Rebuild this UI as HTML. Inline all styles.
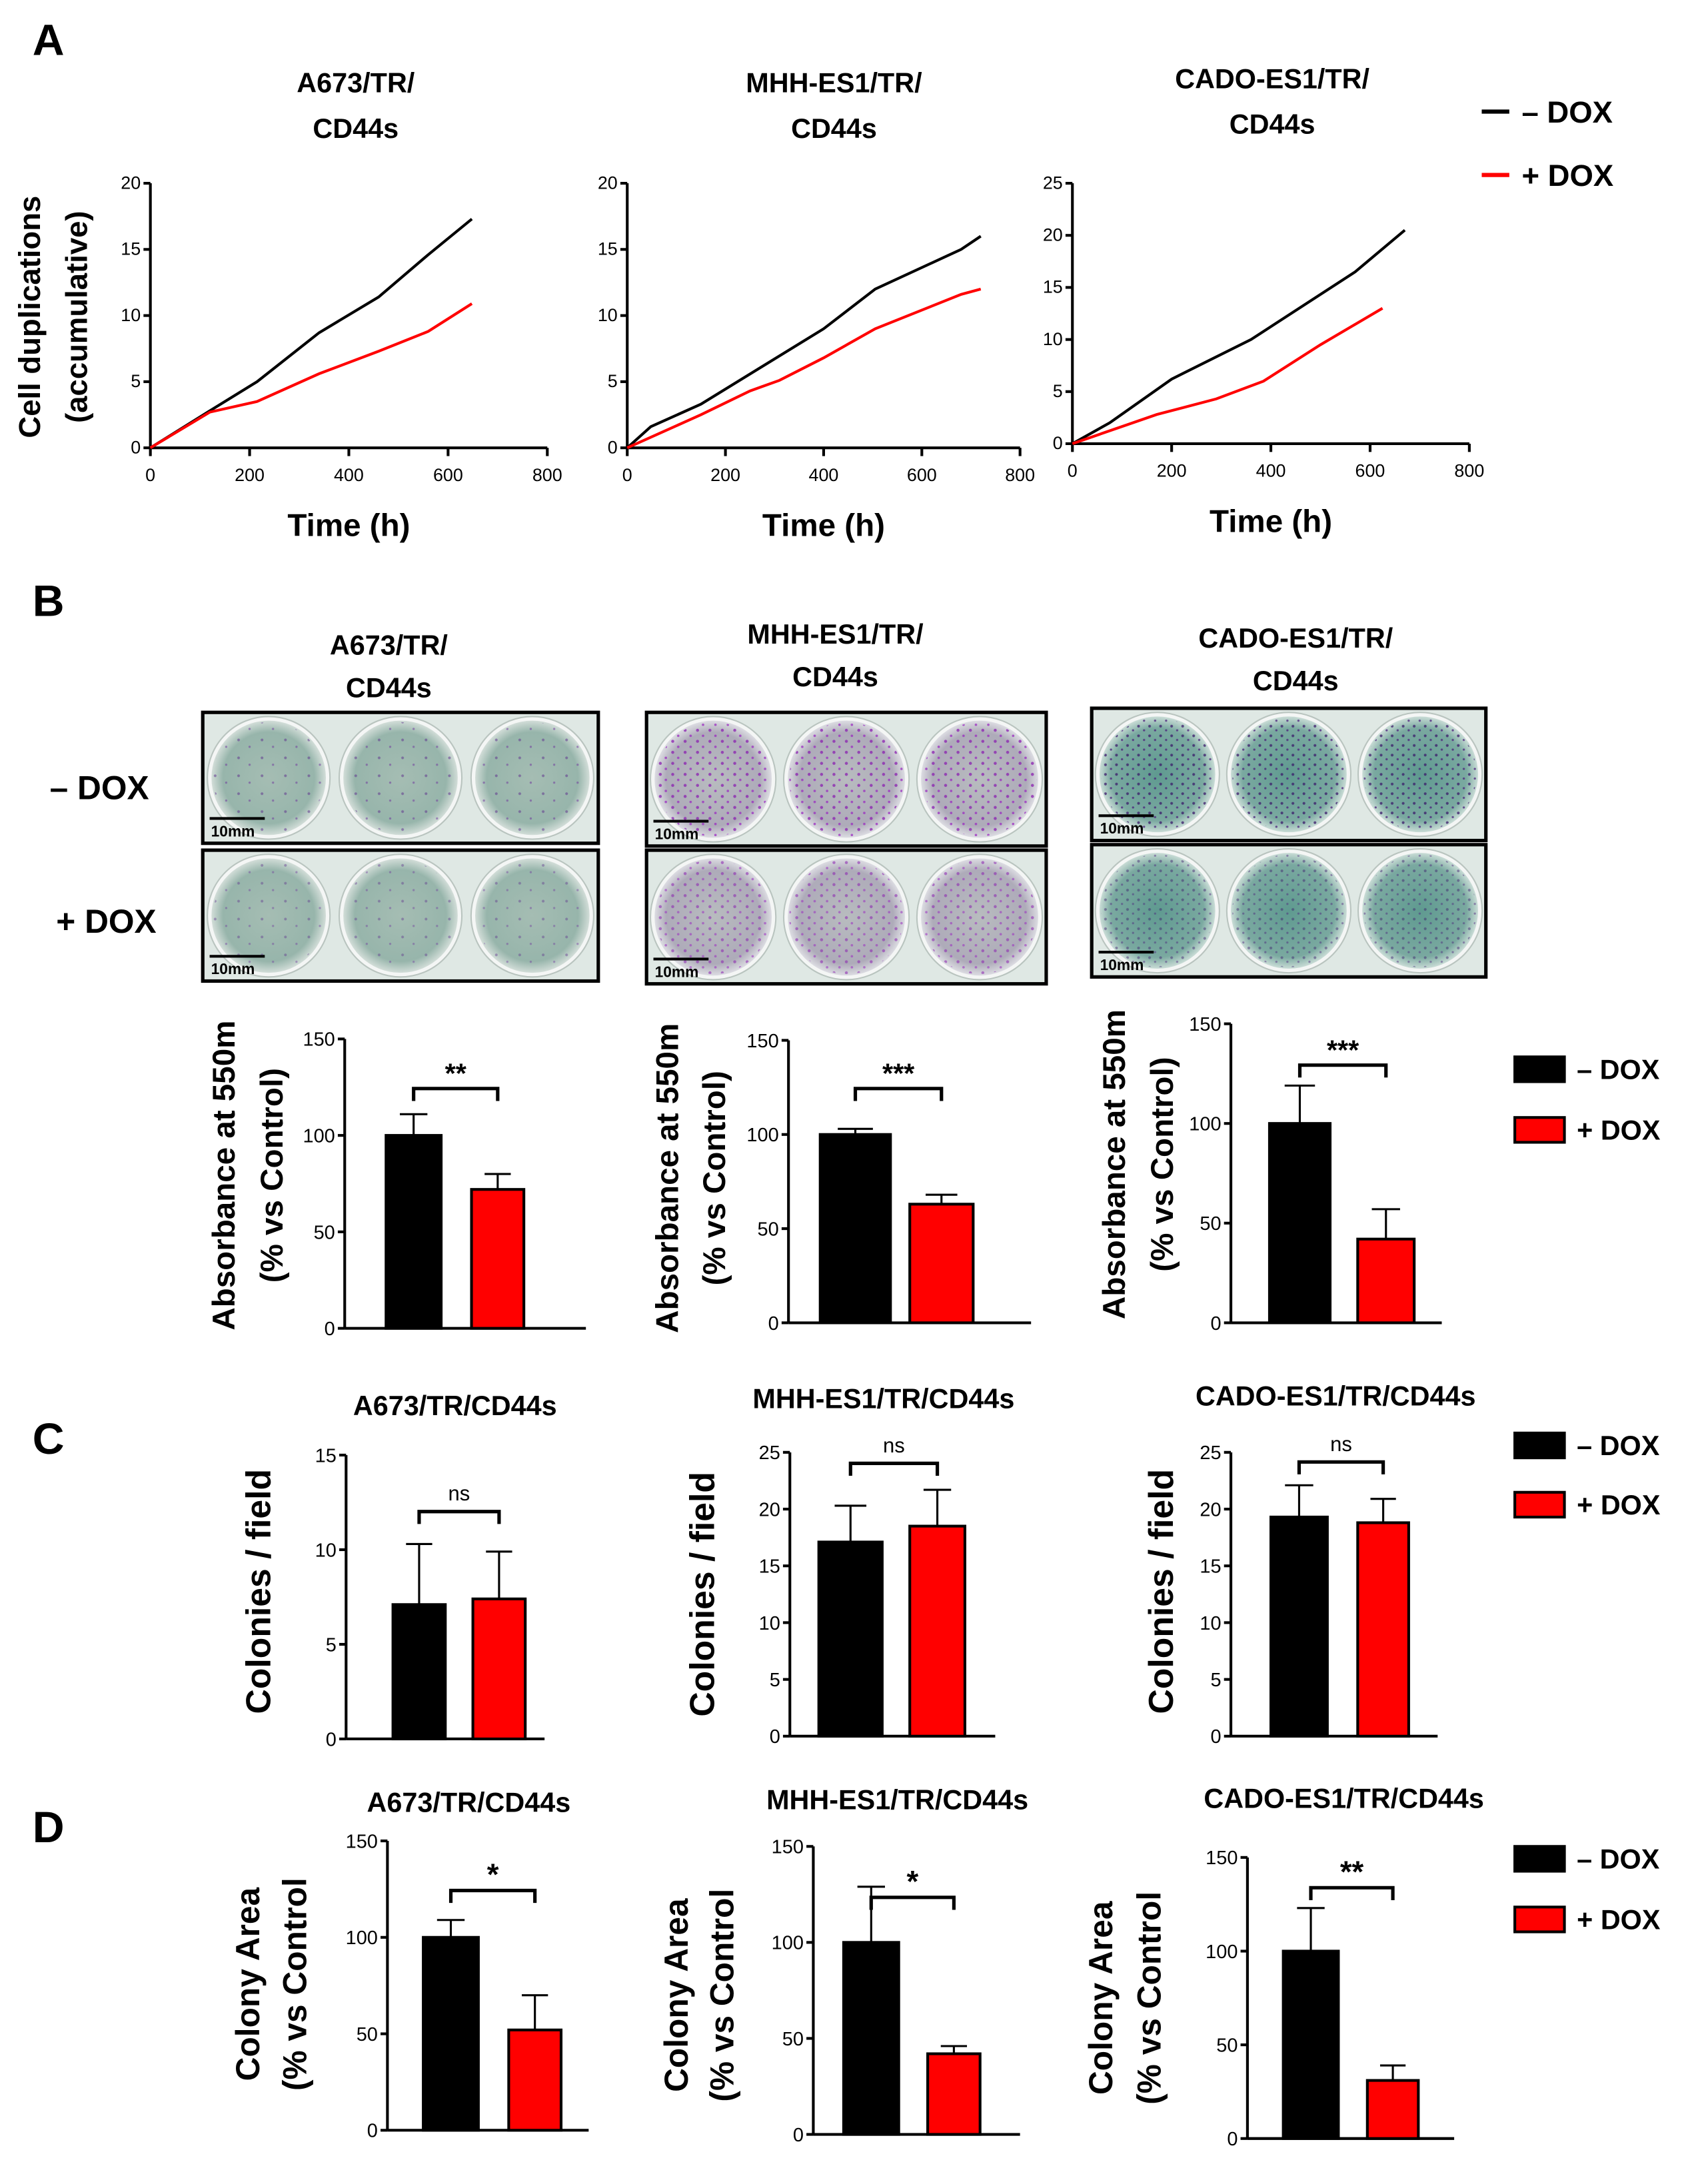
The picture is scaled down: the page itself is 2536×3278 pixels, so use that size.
<!DOCTYPE html>
<html><head><meta charset="utf-8"><style>
html,body{margin:0;padding:0;background:#fff;}
svg{display:block;}
text{font-family:"Liberation Sans Narrow","Liberation Sans",sans-serif;}
</style></head><body>
<svg id="fig" width="2536" height="3278" viewBox="0 0 1226 1585" xmlns="http://www.w3.org/2000/svg">
<defs>
<radialGradient id="wellA" cx="50%" cy="50%" r="50%"><stop offset="0%" stop-color="#a5bdb3"/><stop offset="80%" stop-color="#97b5ab"/><stop offset="100%" stop-color="#d2ddd8"/></radialGradient>
<radialGradient id="wellM" cx="50%" cy="50%" r="50%"><stop offset="0%" stop-color="#b8bcbf"/><stop offset="80%" stop-color="#aeabb9"/><stop offset="100%" stop-color="#dcdce2"/></radialGradient>
<radialGradient id="wellC" cx="50%" cy="50%" r="50%"><stop offset="0%" stop-color="#5f9a90"/><stop offset="80%" stop-color="#7aa9a0"/><stop offset="100%" stop-color="#c9dcd6"/></radialGradient>
<pattern id="dotsA" width="17" height="13" patternUnits="userSpaceOnUse"><circle cx="3" cy="4" r="1" fill="#5a2a8a"/><circle cx="11" cy="9" r="0.8" fill="#6b2f9a"/></pattern>
<pattern id="dotsM" width="9" height="8" patternUnits="userSpaceOnUse"><circle cx="2" cy="2" r="1.1" fill="#8a1fb0"/><circle cx="6" cy="6" r="0.9" fill="#9a2bc0"/></pattern>
<pattern id="dotsC" width="8" height="7" patternUnits="userSpaceOnUse"><circle cx="2" cy="2" r="1" fill="#3a1a6a"/><circle cx="6" cy="5" r="0.8" fill="#4a1f7a"/></pattern>
</defs>
<g id="root"></g>
</svg>
<script>
// ---------- Panel A data (line charts) ----------
const a1Time = [0,120,215,340,460,560,648];
const a1Minus = [0,2.8,5.0,8.7,11.4,14.6,17.3];
const a1Plus = [0,2.7,3.5,5.6,7.3,8.8,10.9];
const a2TimeMinus = [0,48,150,400,505,680,720];
const a2Minus = [0,1.6,3.3,9.0,12.0,15.0,16.0];
const a2TimePlus = [0,150,250,310,400,505,680,720];
const a2Plus = [0,2.5,4.3,5.1,6.8,9.0,11.6,12.0];
const a3TimeMinus = [0,75,200,360,570,670];
const a3Minus = [0,2.0,6.2,10.0,16.5,20.5];
const a3TimePlus = [0,170,290,385,500,625];
const a3Plus = [0,2.8,4.3,6.0,9.5,13.0];
const xTicksA = [0,200,400,600,800];
const yTicksA12 = [0,5,10,15,20];
const yTicksA3 = [0,5,10,15,20,25];
// ---------- Panel B data ----------
const bMeans = [[100,72],[100,63],[100,42]];
const bErr = [[111,80],[103,68],[119,57]];
const bSig = ["**","***","***"];
const yTicksB = [0,50,100,150];
// ---------- Panel C data ----------
const cMeans = [[7.1,7.4],[17.1,18.5],[19.3,18.8]];
const cErr = [[10.3,9.9],[20.3,21.7],[22.1,20.9]];
const cSig = ["ns","ns","ns"];
const yTicksC1 = [0,5,10,15];
const yTicksC23 = [0,5,10,15,20,25];
// ---------- Panel D data ----------
const dMeans = [[100,52],[100,42],[100,31]];
const dErr = [[109,70],[129,46],[123,39]];
const dSig = ["*","*","**"];
const yTicksD = [0,50,100,150];

const NS="http://www.w3.org/2000/svg";
const root=document.getElementById('root');
function el(tag,attrs,parent,txt){const e=document.createElementNS(NS,tag);for(const k in attrs)e.setAttribute(k,attrs[k]);if(txt!==undefined)e.textContent=txt;(parent||root).appendChild(e);return e;}
function txt(x,y,s,size,anchor,bold,parent,rot){const t=el('text',{x:x,y:y,'font-size':size,'text-anchor':anchor||'middle','font-weight':bold?'bold':'normal',fill:'#000'},parent,s);if(rot)t.setAttribute('transform','rotate(-90 '+x+' '+y+')');return t;}

[["A",35,40],["B",35,447],["C",35,1055],["D",35,1337]].forEach(p=>{
 const t=txt(p[1],p[2],p[0],32,'middle',true);
 
 
});

function lineChart(name,x0,x1,y0,y1,ymax,yt,series,title){
 const g=el('g',{});
 
 
 const sx=v=>x0+(x1-x0)*v/800, sy=v=>y0-(y0-y1)*v/ymax;
 el('line',{x1:x0,y1:y0,x2:x1,y2:y0,stroke:'#000','stroke-width':2},g);
 el('line',{x1:x0,y1:y0,x2:x0,y2:y1,stroke:'#000','stroke-width':2},g);
 xTicksA.forEach(v=>{el('line',{x1:sx(v),y1:y0,x2:sx(v),y2:y0+6,stroke:'#000','stroke-width':2},g);txt(sx(v),y0+24,v,13,'middle',false,g);});
 yt.forEach(v=>{el('line',{x1:x0-5,y1:sy(v),x2:x0,y2:sy(v),stroke:'#000','stroke-width':2},g);txt(x0-7,sy(v)+4,v,13,'end',false,g);});
 series.forEach(s=>{
  const p=el('polyline',{points:s.t.map((t,i)=>sx(t)+','+sy(s.v[i])).join(' '),fill:'none',stroke:s.c,'stroke-width':2},g);
  
  
 });
 const tt=txt((x0+x1)/2,y0+64,'Time (h)',23,'middle',true,g);
 
 
 const t1=txt(title[0],title[1],title[2],20,'middle',true,g);
 
 
 txt(title[0],title[1]+33,'CD44s',20,'middle',true,g);
}
lineChart('line-chart-a673',109,397,325,133,20,yTicksA12,[{t:a1Time,v:a1Minus,c:'#000',n:'line-minus-dox'},{t:a1Time,v:a1Plus,c:'#ff0000',n:'line-plus-dox'}],[258,67,'A673/TR/']);
lineChart('line-chart-mhh',455,740,325,133,20,yTicksA12,[{t:a2TimeMinus,v:a2Minus,c:'#000',n:'line-minus-dox'},{t:a2TimePlus,v:a2Plus,c:'#ff0000',n:'line-plus-dox'}],[605,67,'MHH-ES1/TR/']);
lineChart('line-chart-cado',778,1066,322,133,25,yTicksA3,[{t:a3TimeMinus,v:a3Minus,c:'#000',n:'line-minus-dox'},{t:a3TimePlus,v:a3Plus,c:'#ff0000',n:'line-plus-dox'}],[923,64,'CADO-ES1/TR/']);
const yla=txt(29,230,'Cell duplications',22,'middle',true,null,true);


txt(63,230,'(accumulative)',22,'middle',true,null,true);
[['– DOX','#000',81],['+ DOX','#ff0000',127]].forEach(l=>{
 const g=el('g',{});
 
 
 el('line',{x1:1075,y1:l[2],x2:1095,y2:l[2],stroke:l[1],'stroke-width':3},g);
 txt(1104,l[2]+8,l[0],22,'start',true,g);
});

const photos=[
 {x:147,w:287,rows:[517,617],h:95,g:'wellA',d:'dotsA',op:[0.5,0.4],title:[282,475],title2:'A673/TR/'},
 {x:469,w:290,rows:[517,617],h:97,g:'wellM',d:'dotsM',op:[0.75,0.55],title:[606,467],title2:'MHH-ES1/TR/'},
 {x:792,w:286,rows:[514,613],h:96,g:'wellC',d:'dotsC',op:[0.75,0.45],title:[940,470],title2:'CADO-ES1/TR/'}
];
photos.forEach((p,pi)=>{
 const tg=txt(p.title[0],p.title[1],p.title2,20,'middle',true);
 
 
 txt(p.title[0],p.title[1]+31,'CD44s',20,'middle',true);
 p.rows.forEach((ry,ri)=>{
  const g=el('g',{});
  
  
  el('rect',{x:p.x,y:ry,width:p.w,height:p.h,fill:'#dfe8e4',stroke:'#000','stroke-width':2.5},g);
  const r=p.h/2-5, cy=ry+p.h/2;
  for(let k=0;k<3;k++){
   const cx=p.x+p.w*(k+0.5)/3;
   el('circle',{cx:cx,cy:cy,r:r+2,fill:'#f4f6f5',stroke:'#b9c4bf','stroke-width':1},g);
   el('circle',{cx:cx,cy:cy,r:r-1,fill:'url(#'+p.g+')'},g);
   el('circle',{cx:cx,cy:cy,r:r-2,fill:'url(#'+p.d+')',opacity:p.op[ri]},g);
  }
  el('line',{x1:p.x+5,y1:ry+p.h-18,x2:p.x+45,y2:ry+p.h-18,stroke:'#000','stroke-width':2},g);
  txt(p.x+6,ry+p.h-5,'10mm',11,'start',true,g);
 });
});
const rl1=txt(72,580,'– DOX',24,'middle',true);


const rl2=txt(77,677,'+ DOX',24,'middle',true);



function barChart(name,ax,y0,ytop,ymax,yt,bars,means,errs,sig,brY,axEnd,labels,labelX,labelY,sigFont,labelFont){
 const g=el('g',{});
 
 
 const sy=v=>y0-(y0-ytop)*v/ymax;
 el('line',{x1:ax,y1:y0,x2:axEnd,y2:y0,stroke:'#000','stroke-width':2},g);
 el('line',{x1:ax,y1:y0,x2:ax,y2:ytop,stroke:'#000','stroke-width':2},g);
 yt.forEach(v=>{el('line',{x1:ax-5,y1:sy(v),x2:ax,y2:sy(v),stroke:'#000','stroke-width':2},g);txt(ax-7,sy(v)+5,v,14,'end',false,g);});
 const cols=['#000','#ff0000'];
 bars.forEach((b,i)=>{
  const cx=(b[0]+b[1])/2;
  el('line',{x1:cx,y1:sy(means[i]),x2:cx,y2:sy(errs[i]),stroke:'#000','stroke-width':1.5},g);
  el('line',{x1:cx-(b[1]-b[0])/4,y1:sy(errs[i]),x2:cx+(b[1]-b[0])/4,y2:sy(errs[i]),stroke:'#000','stroke-width':1.5},g);
  const r=el('rect',{x:b[0],y:sy(means[i]),width:b[1]-b[0],height:y0-sy(means[i]),fill:cols[i],stroke:'#000','stroke-width':2},g);
  
  
 });
 const c0=(bars[0][0]+bars[0][1])/2, c1=(bars[1][0]+bars[1][1])/2;
 const br=el('path',{d:'M'+c0+' '+(brY+9)+' V'+brY+' H'+c1+' V'+(brY+9),fill:'none',stroke:'#000','stroke-width':2.5},g);
 
 
 const s=txt((c0+c1)/2,brY-(sig=='ns'?8:4),sig,sig=='ns'?15:sigFont,'middle',sig!='ns',g);
 
 
 labels.forEach((l,i)=>{
  const t=txt(labelX[i],labelY,l,labelFont,'middle',true,g,true);
  
  
 });
}
barChart('bar-chart-b-a673',250,964,754,150,yTicksB,[[280,320],[342,380]],bMeans[0],bErr[0],bSig[0],790,425,['Absorbance at 550m','(% vs Control)'],[170,205],853,20,23);
barChart('bar-chart-b-mhh',572,960,755,150,yTicksB,[[595,646],[660,706]],bMeans[1],bErr[1],bSig[1],790,748,['Absorbance at 550m','(% vs Control)'],[492,526],855,20,23);
barChart('bar-chart-b-cado',893,960,743,150,yTicksB,[[921,965],[985,1026]],bMeans[2],bErr[2],bSig[2],773,1046,['Absorbance at 550m','(% vs Control)'],[816,851],845,20,23);
const cTitles=[[330,1027,'A673/TR/CD44s'],[641,1022,'MHH-ES1/TR/CD44s'],[969,1020,'CADO-ES1/TR/CD44s']];
const dTitles=[[340,1315,'A673/TR/CD44s'],[651,1313,'MHH-ES1/TR/CD44s'],[975,1312,'CADO-ES1/TR/CD44s']];
cTitles.concat(dTitles).forEach(t=>{const e=txt(t[0],t[1],t[2],20,'middle',true);
 
 });
barChart('bar-chart-c-a673',251,1262,1056,15,yTicksC1,[[285,323],[343,381]],cMeans[0],cErr[0],cSig[0],1097,395,['Colonies / field'],[196],1155,20,25);
barChart('bar-chart-c-mhh',573,1260,1054,25,yTicksC23,[[594,640],[660,700]],cMeans[1],cErr[1],cSig[1],1062,722,['Colonies / field'],[518],1157,20,25);
barChart('bar-chart-c-cado',893,1260,1054,25,yTicksC23,[[922,963],[985,1022]],cMeans[2],cErr[2],cSig[2],1061,1043,['Colonies / field'],[851],1155,20,25);
barChart('bar-chart-d-a673',281,1546,1336,150,yTicksD,[[307,347],[369,407]],dMeans[0],dErr[0],dSig[0],1372,427,['Colony Area','(% vs Control'],[188,222],1440,22,24);
barChart('bar-chart-d-mhh',590,1549,1340,150,yTicksD,[[612,652],[673,711]],dMeans[1],dErr[1],dSig[1],1377,740,['Colony Area','(% vs Control'],[499,532],1448,22,24);
barChart('bar-chart-d-cado',905,1552,1348,150,yTicksD,[[931,971],[992,1029]],dMeans[2],dErr[2],dSig[2],1370,1055,['Colony Area','(% vs Control'],[807,842],1450,22,24);

[[767,811],[1040,1083],[1340,1384]].forEach((ys,li)=>{
 [['– DOX','#000',ys[0]],['+ DOX','#ff0000',ys[1]]].forEach(l=>{
  const g=el('g',{});
  
  
  el('rect',{x:1099,y:l[2],width:36,height:18,fill:l[1],stroke:'#000','stroke-width':2},g);
  txt(1144,l[2]+16,l[0],20,'start',true,g);
 });
});
</script>
</body></html>
